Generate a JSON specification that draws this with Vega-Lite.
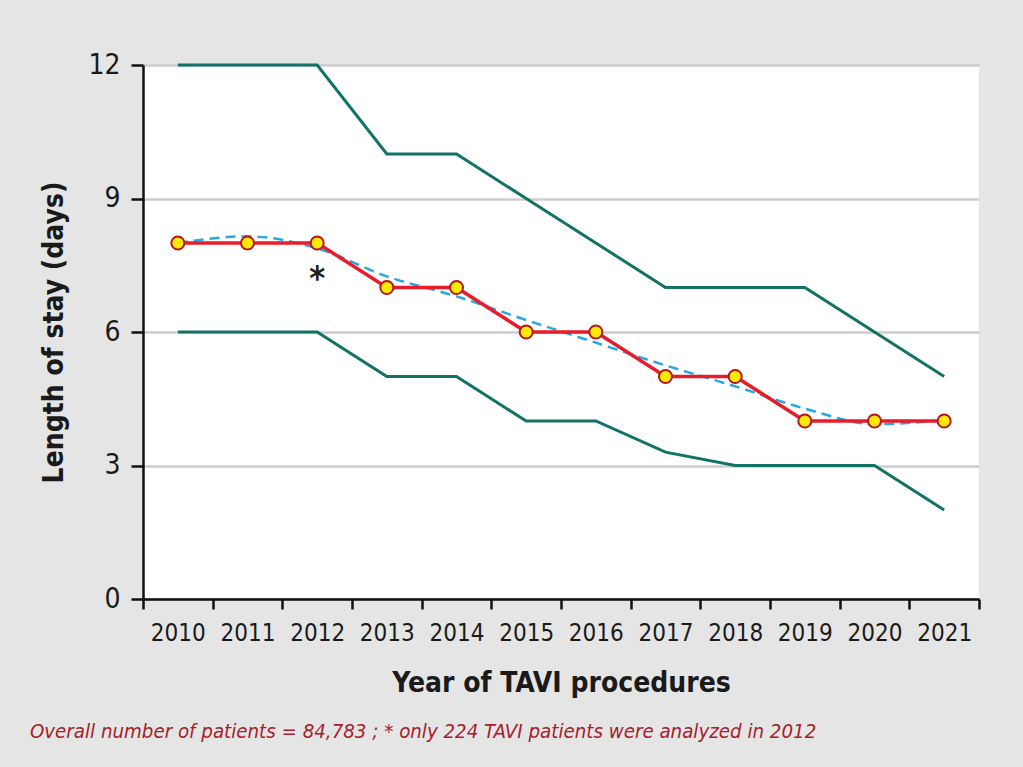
{
  "$schema": "https://vega.github.io/schema/vega-lite/v6.json",
  "autosize": "none",
  "width": 836,
  "height": 534,
  "padding": {"left": 143, "top": 65, "right": 44, "bottom": 168},
  "background": "#e5e5e5",
  "config": {
    "view": {"fill": "white", "stroke": null},
    "font": "DejaVu Sans Condensed"
  },
  "title": {
    "text": "Overall number of patients = 84,783 ; * only 224 TAVI patients were analyzed in 2012",
    "orient": "bottom",
    "anchor": "start",
    "frame": "bounds",
    "font": "DejaVu Sans Condensed",
    "fontSize": 20.3,
    "fontStyle": "italic",
    "fontWeight": "normal",
    "color": "#a5202b",
    "offset": 25,
    "dx": -11
  },
  "datasets": {
    "bounds": [
      {"year": 2010, "bound": "upper", "value": 12},
      {"year": 2011, "bound": "upper", "value": 12},
      {"year": 2012, "bound": "upper", "value": 12},
      {"year": 2013, "bound": "upper", "value": 10},
      {"year": 2014, "bound": "upper", "value": 10},
      {"year": 2015, "bound": "upper", "value": 9},
      {"year": 2016, "bound": "upper", "value": 8},
      {"year": 2017, "bound": "upper", "value": 7},
      {"year": 2018, "bound": "upper", "value": 7},
      {"year": 2019, "bound": "upper", "value": 7},
      {"year": 2020, "bound": "upper", "value": 6},
      {"year": 2021, "bound": "upper", "value": 5},
      {"year": 2010, "bound": "lower", "value": 6},
      {"year": 2011, "bound": "lower", "value": 6},
      {"year": 2012, "bound": "lower", "value": 6},
      {"year": 2013, "bound": "lower", "value": 5},
      {"year": 2014, "bound": "lower", "value": 5},
      {"year": 2015, "bound": "lower", "value": 4},
      {"year": 2016, "bound": "lower", "value": 4},
      {"year": 2017, "bound": "lower", "value": 3.3},
      {"year": 2018, "bound": "lower", "value": 3},
      {"year": 2019, "bound": "lower", "value": 3},
      {"year": 2020, "bound": "lower", "value": 3},
      {"year": 2021, "bound": "lower", "value": 2}
    ],
    "median": [
      {"year": 2010, "value": 8},
      {"year": 2011, "value": 8},
      {"year": 2012, "value": 8},
      {"year": 2013, "value": 7},
      {"year": 2014, "value": 7},
      {"year": 2015, "value": 6},
      {"year": 2016, "value": 6},
      {"year": 2017, "value": 5},
      {"year": 2018, "value": 5},
      {"year": 2019, "value": 4},
      {"year": 2020, "value": 4},
      {"year": 2021, "value": 4}
    ],
    "trend": [
      {"year": 2010, "value": 8.0},
      {"year": 2011, "value": 8.15},
      {"year": 2012, "value": 7.88},
      {"year": 2013, "value": 7.25},
      {"year": 2014, "value": 6.8},
      {"year": 2015, "value": 6.27},
      {"year": 2016, "value": 5.76},
      {"year": 2017, "value": 5.25},
      {"year": 2018, "value": 4.78},
      {"year": 2019, "value": 4.28},
      {"year": 2020, "value": 3.93},
      {"year": 2021, "value": 4.02}
    ],
    "note": [
      {"year": 2012, "value": 7.16, "label": "*"}
    ]
  },
  "encoding": {
    "y": {
      "field": "value",
      "type": "quantitative",
      "scale": {"domain": [0, 12], "nice": false},
      "axis": {
        "values": [0, 3, 6, 9, 12],
        "grid": true,
        "gridColor": "#cdcdcd",
        "gridWidth": 2.5,
        "domainColor": "#111111",
        "domainWidth": 2.5,
        "tickColor": "#111111",
        "tickWidth": 2.5,
        "tickSize": 12,
        "labelFontSize": 28,
        "labelColor": "#1a1a1a",
        "labelPadding": 11,
        "title": "Length of stay (days)",
        "titleFontSize": 28,
        "titleFontWeight": "bold",
        "titleColor": "#1a1a1a",
        "titlePadding": 19
      }
    }
  },
  "resolve": {"axis": {"x": "independent"}},
  "layer": [
    {
      "data": {"name": "bounds"},
      "mark": {"type": "line", "color": "#137268", "strokeWidth": 3},
      "encoding": {
        "x": {
          "field": "year",
          "type": "quantitative",
          "scale": {"domain": [2009.5, 2021.5], "nice": false, "zero": false},
          "axis": {
            "orient": "bottom",
            "values": [2009.5, 2010.5, 2011.5, 2012.5, 2013.5, 2014.5, 2015.5, 2016.5, 2017.5, 2018.5, 2019.5, 2020.5, 2021.5],
            "labels": false,
            "grid": false,
            "domainColor": "#111111",
            "domainWidth": 2.5,
            "tickColor": "#111111",
            "tickWidth": 2.5,
            "tickSize": 10,
            "title": null
          }
        },
        "detail": {"field": "bound", "type": "nominal"}
      }
    },
    {
      "encoding": {
        "x": {
          "field": "year",
          "type": "quantitative",
          "scale": {"domain": [2009.5, 2021.5], "nice": false, "zero": false},
          "axis": {
            "orient": "bottom",
            "values": [2010, 2011, 2012, 2013, 2014, 2015, 2016, 2017, 2018, 2019, 2020, 2021],
            "format": "d",
            "grid": false,
            "domain": false,
            "ticks": false,
            "labelFontSize": 24,
            "labelColor": "#1a1a1a",
            "labelPadding": 22,
            "labelFlush": false,
            "labelOverlap": false,
            "title": "Year of TAVI procedures",
            "titleFontSize": 28,
            "titleFontWeight": "bold",
            "titleColor": "#1a1a1a",
            "titlePadding": 24
          }
        }
      },
      "layer": [
        {
          "data": {"name": "trend"},
          "mark": {"type": "line", "color": "#2aa7e0", "strokeWidth": 2.5, "strokeDash": [10, 6], "interpolate": "monotone"}
        },
        {
          "data": {"name": "median"},
          "mark": {"type": "line", "color": "#e81c2a", "strokeWidth": 3.5}
        },
        {
          "data": {"name": "median"},
          "mark": {"type": "circle", "fill": "#ffea00", "stroke": "#b3161f", "strokeWidth": 2, "size": 170, "opacity": 1}
        },
        {
          "data": {"name": "note"},
          "mark": {"type": "text", "fontSize": 34, "fontWeight": "bold", "color": "#222222", "baseline": "middle", "align": "center"},
          "encoding": {"text": {"field": "label", "type": "nominal"}}
        }
      ]
    }
  ]
}
